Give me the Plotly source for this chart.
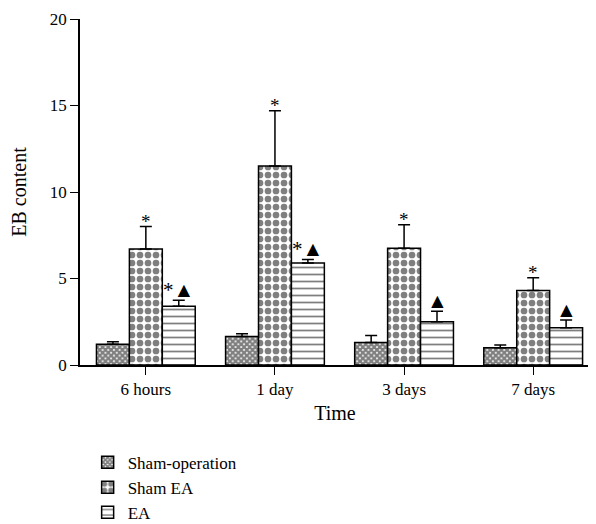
import plotly.graph_objects as go

categories = ["6 hours", "1 day", "3 days", "7 days"]
series_names = ["Sham-operation", "Sham EA", "EA"]
sham_op = [1.2, 1.65, 1.3, 1.0]
sham_op_err = [0.15, 0.15, 0.4, 0.15]
sham_ea = [6.7, 11.5, 6.75, 4.3]
sham_ea_err = [1.3, 3.2, 1.35, 0.75]
ea = [3.4, 5.9, 2.5, 2.15]
ea_err = [0.35, 0.2, 0.6, 0.45]
sham_ea_marks = ["*", "*", "*", "*"]
ea_marks = ["*▲", "*▲", "▲", "▲"]

FONT = "Liberation Serif, Times New Roman, serif"
x = list(range(len(categories)))
W = 0.255

patterns = [
    dict(shape="x", size=4, solidity=0.8, fgcolor="black", bgcolor="white"),
    dict(shape=".", size=8, solidity=0.55, fgcolor="black", bgcolor="white"),
    dict(shape="-", size=7, solidity=0.25, fgcolor="black", bgcolor="white"),
]
vals = [sham_op, sham_ea, ea]
errs = [sham_op_err, sham_ea_err, ea_err]

fig = go.Figure()
for k in range(3):
    fig.add_trace(go.Bar(
        x=x, y=vals[k], name=series_names[k], width=W,
        offset=(k - 1.5) * W,
        marker=dict(color="white", pattern=patterns[k],
                    line=dict(color="black", width=1.5)),
        error_y=dict(type="data", array=errs[k], arrayminus=[0] * 4,
                     symmetric=False, color="black", thickness=1.5, width=6),
    ))

ann = []
for i in x:
    ann.append(dict(x=i, y=sham_ea[i] + sham_ea_err[i], text=sham_ea_marks[i],
                    showarrow=False, yanchor="bottom", yshift=-7,
                    font=dict(family=FONT, size=19, color="black")))
    ann.append(dict(x=i + W, y=ea[i] + ea_err[i], text=ea_marks[i],
                    showarrow=False, yanchor="bottom", yshift=-4,
                    font=dict(family=FONT, size=21, color="black")))

fig.update_layout(
    width=588, height=516,
    margin=dict(l=72, r=6, t=11, b=159, autoexpand=False),
    plot_bgcolor="white", paper_bgcolor="white",
    font=dict(family=FONT, size=17, color="black"),
    barmode="overlay",
    showlegend=True,
    legend=dict(x=0.015, xanchor="left", y=-0.23, yanchor="top",
                font=dict(family=FONT, size=17), tracegroupgap=0,
                itemwidth=30, bgcolor="rgba(0,0,0,0)"),
    annotations=ann,
    xaxis=dict(range=[-0.51, 3.44], tickvals=x, ticktext=categories,
               showline=True, linecolor="black", linewidth=1.5,
               ticks="outside", ticklen=8, tickcolor="black",
               showgrid=False, zeroline=False, automargin=False,
               title=dict(text="Time", standoff=8)),
    yaxis=dict(range=[0, 20], tickvals=[0, 5, 10, 15, 20],
               showline=True, linecolor="black", linewidth=1.5,
               ticks="outside", ticklen=8, tickcolor="black",
               showgrid=False, zeroline=False, automargin=False,
               title=dict(text="EB content", standoff=20)),
)

fig.write_html("out.html")
